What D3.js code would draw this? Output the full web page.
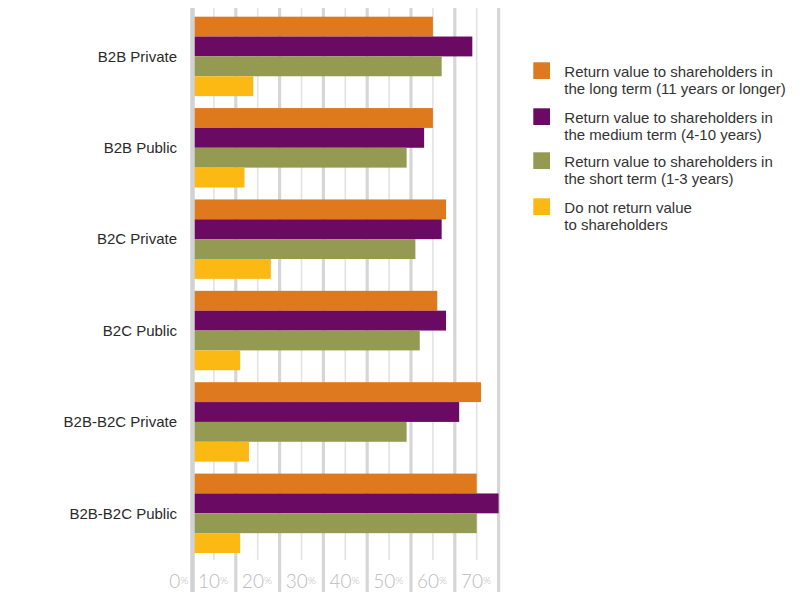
<!DOCTYPE html>
<html>
<head>
<meta charset="utf-8">
<script src="https://cdn.jsdelivr.net/npm/d3@7"></script>
<style>
  html, body { margin: 0; padding: 0; background: #fff; }
  svg { display: block; }
</style>
</head>
<body>
<svg id="chart" width="807" height="592"></svg>
<script>
// Survey segments (top to bottom)
const categories = ["B2B Private", "B2B Public", "B2C Private", "B2C Public", "B2B-B2C Private", "B2B-B2C Public"];

// Share of respondents (%) per answer
const longTerm   = [55, 55, 58, 56, 66, 65];
const mediumTerm = [64, 53, 57, 58, 61, 70];
const shortTerm  = [57, 49, 51, 52, 49, 65];
const noReturn   = [14, 12, 18, 11, 13, 11];

const seriesNames = [
  ["Return value to shareholders in", "the long term (11 years or longer)"],
  ["Return value to shareholders in", "the medium term (4-10 years)"],
  ["Return value to shareholders in", "the short term (1-3 years)"],
  ["Do not return value", "to shareholders"]
];
const seriesColors = ["#df791d", "#6a0a62", "#949a51", "#fcb813"];

const tickValues = [0, 10, 20, 30, 40, 50, 60, 70];
const minorTicks = [5, 15, 25, 35, 45, 55, 65];

const series = [longTerm, mediumTerm, shortTerm, noReturn];

const svg = d3.select("#chart");
const fontFamily = "'Liberation Sans', Arial, Helvetica, sans-serif";

const x = d3.scaleLinear().domain([0, 70]).range([192, 498.6]);
const y = d3.scaleBand().domain(categories).range([10.7, 559])
  .paddingInner(0.131).paddingOuter(0.0655);
const ySub = d3.scaleBand().domain(d3.range(series.length)).range([0, y.bandwidth()]);

// Minor gridlines (short)
svg.append("g").selectAll("line").data(minorTicks).join("line")
  .attr("x1", d => x(d)).attr("x2", d => x(d))
  .attr("y1", 8).attr("y2", 560)
  .attr("stroke", "#e3e3e3").attr("stroke-width", 1.6);

// Major gridlines (run to the bottom edge)
svg.append("g").selectAll("line").data(tickValues.slice(1)).join("line")
  .attr("x1", d => x(d)).attr("x2", d => x(d))
  .attr("y1", 8).attr("y2", 592)
  .attr("stroke", "#d6d6d6").attr("stroke-width", 3.2);

// Bars
const groups = svg.append("g").selectAll("g").data(categories).join("g")
  .attr("transform", c => `translate(0,${y(c)})`);
groups.selectAll("rect")
  .data((c, i) => series.map((s, k) => ({ k, v: s[i] })))
  .join("rect")
  .attr("x", x(0))
  .attr("y", d => ySub(d.k))
  .attr("width", d => x(d.v) - x(0))
  .attr("height", ySub.bandwidth())
  .attr("fill", d => seriesColors[d.k]);

// Zero baseline drawn over the bar starts
svg.append("line")
  .attr("x1", x(0) + 0.5).attr("x2", x(0) + 0.5)
  .attr("y1", 8).attr("y2", 592)
  .attr("stroke", "#d2d2d2").attr("stroke-width", 4.5);

// Category labels
svg.append("g").selectAll("text").data(categories).join("text")
  .attr("x", 177)
  .attr("y", c => y(c) + y.bandwidth() / 2)
  .attr("dy", "0.35em")
  .attr("text-anchor", "end")
  .attr("font-family", fontFamily)
  .attr("font-size", 15)
  .attr("fill", "#2a2a2a")
  .text(c => c);

// Axis tick labels: large light numerals with a small percent sign
const tl = svg.append("g").selectAll("text").data(tickValues).join("text")
  .attr("x", d => x(d) - (d === 0 ? 3.5 : 7.5))
  .attr("y", 588)
  .attr("text-anchor", "end")
  .attr("font-family", "Lato, 'Open Sans', Roboto, sans-serif")
  .attr("font-weight", 300)
  .attr("fill", "#bcbcbc");
tl.append("tspan").attr("font-size", 19).text(d => d);
tl.append("tspan").attr("font-size", 10.5).attr("dy", -4).text("%");

// Legend
const legendTops = [62.3, 108.3, 152.3, 198.3];
const leg = svg.append("g").selectAll("g").data(seriesNames).join("g")
  .attr("transform", (d, i) => `translate(533.3,${legendTops[i]})`);
leg.append("rect")
  .attr("width", 16.7).attr("height", 16.7)
  .attr("fill", (d, i) => seriesColors[i]);
leg.append("text")
  .attr("font-family", fontFamily)
  .attr("font-size", 15)
  .attr("fill", "#333")
  .selectAll("tspan").data(d => d).join("tspan")
  .attr("x", 31)
  .attr("y", (d, j) => 14.4 + j * 17)
  .text(d => d);
</script>
</body>
</html>
